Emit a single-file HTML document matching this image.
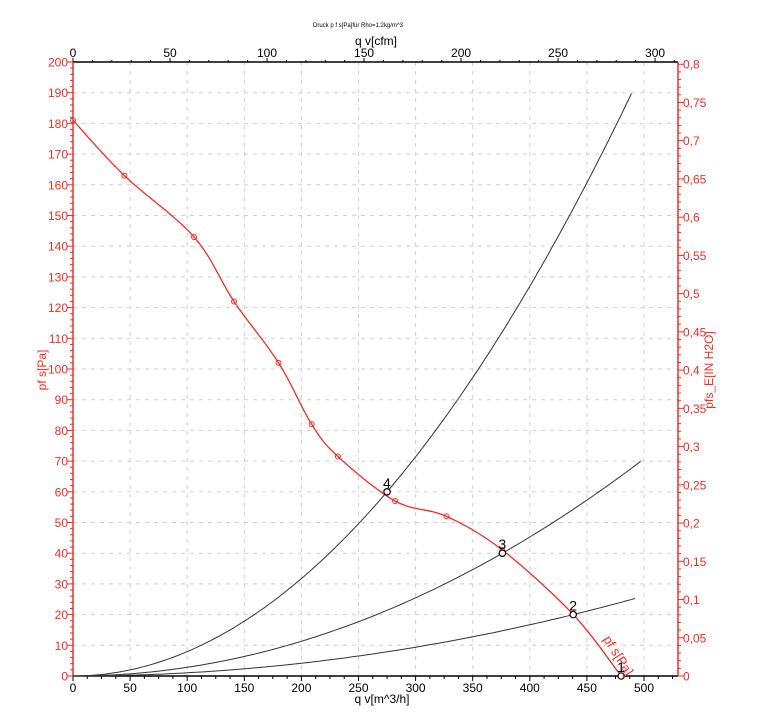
<!DOCTYPE html>
<html><head><meta charset="utf-8"><style>
body{margin:0;background:#fff;}
svg{display:block;font-family:"Liberation Sans",Arial,sans-serif;}
</style></head><body>
<svg id="s" width="768" height="728" viewBox="0 0 768 728" xmlns="http://www.w3.org/2000/svg">
<text x="358" y="27" font-size="6" text-anchor="middle" fill="#000">Druck p f s[Pa]für Rho=1,2kg/m^3</text>
<text x="376" y="45" font-size="12" text-anchor="middle" fill="#000">q v[cfm]</text>
<text x="382" y="703" font-size="12" text-anchor="middle" fill="#000">q v[m^3/h]</text>
<text transform="translate(46,370) rotate(-90)" font-size="12" text-anchor="middle" fill="#e8302a">pf s[Pa]</text>
<text transform="translate(713,370) rotate(-90)" font-size="12" text-anchor="middle" fill="#e8302a">pfs_E[IN H2O]</text>
<g id="g"></g>
</svg>
<script>
const NS="http://www.w3.org/2000/svg",g=document.getElementById('g');
const X0=73,KX=1.142,Y0=676,KY=3.07;
const px=v=>X0+v*KX,py=p=>Y0-p*KY;
function el(t,a,txt){const e=document.createElementNS(NS,t);for(const k in a)e.setAttribute(k,a[k]);if(txt!=null)e.textContent=txt;g.appendChild(e);return e;}
const R=678,T=62;
for(let v=50;v<=500;v+=50)el('line',{x1:px(v),y1:T,x2:px(v),y2:Y0,stroke:'#d0d0d0','stroke-dasharray':'4,5','stroke-width':1});
for(let p=10;p<200;p+=10)el('line',{x1:X0,y1:py(p),x2:R,y2:py(p),stroke:'#d0d0d0','stroke-dasharray':'4,5','stroke-width':1});
el('line',{x1:X0,y1:T,x2:R,y2:T,stroke:'#000','stroke-width':1.5});
el('line',{x1:X0,y1:Y0,x2:R,y2:Y0,stroke:'#000','stroke-width':1.5});
el('line',{x1:X0,y1:T,x2:X0,y2:Y0,stroke:'#e8302a','stroke-width':1.5});
el('line',{x1:R,y1:T,x2:R,y2:Y0,stroke:'#e8302a','stroke-width':1.5});
for(let v=0;v<=525;v+=12.5){const m=v%50==0;el('line',{x1:px(v),y1:Y0,x2:px(v),y2:Y0+(m?5:3),stroke:'#000'});}
for(let v=0;v<=500;v+=50)el('text',{x:px(v),y:Y0+16,'font-size':12,'text-anchor':'middle'},v);
const cf=1.699*KX;
for(let v=0;v<=310;v+=10){const m=v%50==0;el('line',{x1:X0+v*cf,y1:T,x2:X0+v*cf,y2:T-(m?4:2),stroke:'#000'});}
for(let v=0;v<=300;v+=50)el('text',{x:X0+v*cf,y:T-5,'font-size':12,'text-anchor':'middle'},v);
for(let p=0;p<=200;p+=2){const m=p%10==0;el('line',{x1:X0,y1:py(p),x2:X0-(m?6:3),y2:py(p),stroke:'#e8302a'});}
for(let p=0;p<=200;p+=10)el('text',{x:X0-5,y:py(p)+4.5,'font-size':12,'text-anchor':'end',fill:'#e8302a'},p);
const ip=249.09;
for(let i=0;i<=80;i++){const w=i/100;const y=py(w*ip);if(y<T-1)break;const m=i%5==0;el('line',{x1:R,y1:y,x2:R+(m?6:3),y2:y,stroke:'#e8302a'});}
for(let i=0;i<=16;i++){const w=i*0.05;const y=py(w*ip);let s=(Math.round(w*100)/100).toString().replace('.',',');el('text',{x:R+5,y:y+4.5,'font-size':12,fill:'#e8302a'},s);}
function sys(q1,p1,qe){let d='';for(let q=0;q<=qe;q+=4){d+=(q?'L':'M')+px(q).toFixed(1)+','+py(p1*(q/q1)**2).toFixed(1);}d+='L'+px(qe)+','+py(p1*(qe/q1)**2);el('path',{d,fill:'none',stroke:'#333','stroke-width':1});}
sys(275,60,489);sys(376,40,497);sys(438,20,492);
const P=[[0,181],[45,163],[106,143],[141,122],[180,102],[209,82],[232,71.5],[282,57],[327,52],[376,41],[438,20],[480,0]];
let d='M'+px(0)+','+py(181);
for(let i=0;i<P.length-1;i++){const p0=P[Math.max(0,i-1)],p1=P[i],p2=P[i+1],p3=P[Math.min(P.length-1,i+2)];
for(let t=0.1;t<=1.001;t+=0.1){const t2=t*t,t3=t2*t;const f=(a,b,c,e)=>0.5*(2*b+(-a+c)*t+(2*a-5*b+4*c-e)*t2+(-a+3*b-3*c+e)*t3);d+='L'+px(f(p0[0],p1[0],p2[0],p3[0])).toFixed(1)+','+py(f(p0[1],p1[1],p2[1],p3[1])).toFixed(1);}}
el('path',{d,fill:'none',stroke:'#e8302a','stroke-width':1.3});
P.slice(0,-1).forEach(p=>el('circle',{cx:px(p[0]),cy:py(p[1]),r:2.5,fill:'none',stroke:'#e8302a','stroke-width':1}));
[[480,0,'1'],[438,20,'2'],[376,40,'3'],[275,60,'4']].forEach(p=>{el('circle',{cx:px(p[0]),cy:py(p[1]),r:3.2,fill:'#fff',stroke:'#000','stroke-width':1.2});el('text',{x:px(p[0])-4,y:py(p[1])-4,'font-size':14},p[2]);});
el('text',{transform:`translate(${px(464)},${py(12)}) rotate(58)`,'font-size':13,fill:'#e8302a'},'pf s[Pa]');
</script>
</body></html>
